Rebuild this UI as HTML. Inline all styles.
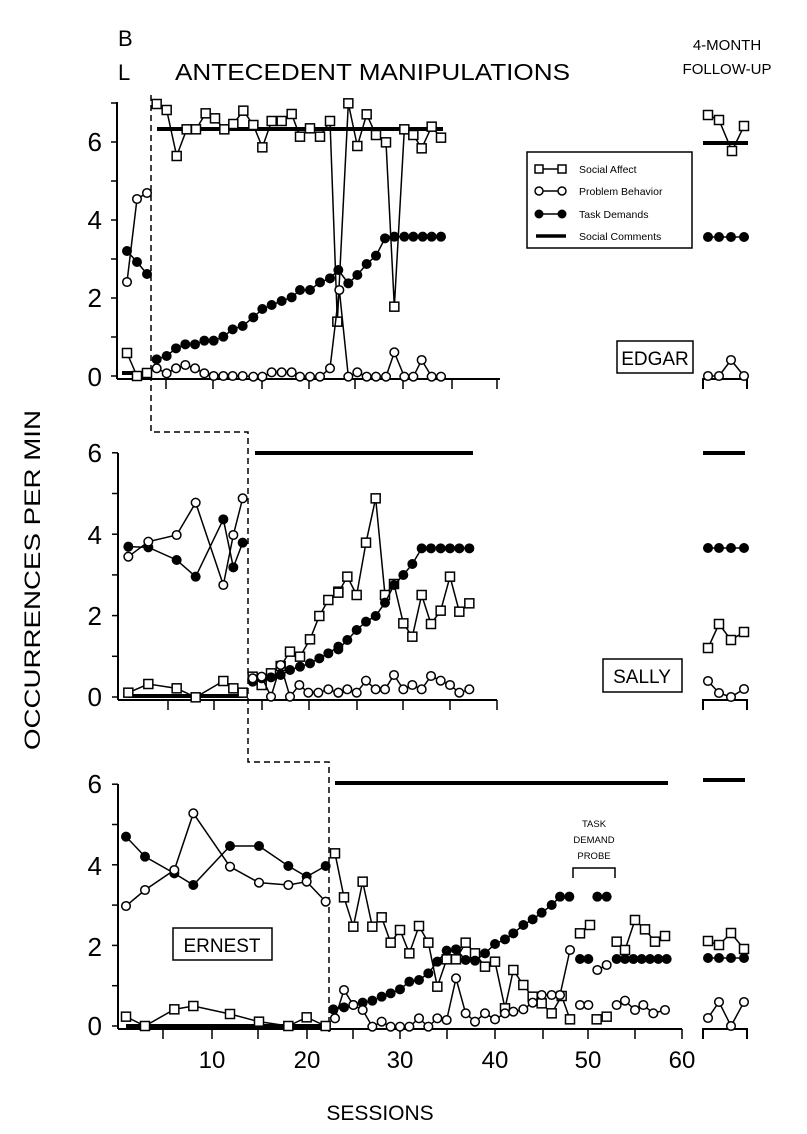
<!DOCTYPE html>
<html><head><meta charset="utf-8"><style>
html,body{margin:0;padding:0;background:#fff}
svg{display:block}
text{font-family:"Liberation Sans",Arial,sans-serif;fill:#000}
</style></head><body>
<svg id="s" width="807" height="1134" viewBox="0 0 807 1134" xmlns="http://www.w3.org/2000/svg">
<rect width="807" height="1134" fill="#fff"/>
<text x="118" y="46" font-size="22">B</text>
<text x="118" y="80" font-size="22">L</text>
<text x="175" y="80" font-size="23" textLength="395" lengthAdjust="spacingAndGlyphs">ANTECEDENT MANIPULATIONS</text>
<text x="727" y="50" font-size="15" text-anchor="middle">4-MONTH</text>
<text x="727" y="74" font-size="15" text-anchor="middle">FOLLOW-UP</text>
<text transform="translate(40,580) rotate(-90)" font-size="22" text-anchor="middle" textLength="340" lengthAdjust="spacingAndGlyphs">OCCURRENCES PER MIN</text>
<text x="380" y="1120" font-size="21" text-anchor="middle">SESSIONS</text>
<g font-size="24" text-anchor="middle">
<text x="212" y="1068">10</text><text x="307" y="1068">20</text><text x="400" y="1068">30</text>
<text x="495" y="1068">40</text><text x="588" y="1068">50</text><text x="682" y="1068">60</text>
</g>
<g font-size="26" text-anchor="end">
<text x="102" y="151">6</text><text x="102" y="229">4</text><text x="102" y="307">2</text><text x="102" y="386">0</text>
<text x="102" y="462">6</text><text x="102" y="544">4</text><text x="102" y="625">2</text><text x="102" y="706">0</text>
<text x="102" y="793">6</text><text x="102" y="875">4</text><text x="102" y="956">2</text><text x="102" y="1035">0</text>
</g>
<rect x="527" y="152" width="165" height="96" fill="#fff" stroke="#000" stroke-width="1.5"/>
<g font-size="10.5">
<text x="579" y="173">Social Affect</text>
<text x="579" y="195">Problem Behavior</text>
<text x="579" y="218">Task Demands</text>
<text x="579" y="240">Social Comments</text>
</g>
<line x1="539" y1="169" x2="562" y2="169" stroke="#000" stroke-width="1.5"/>
<rect x="535" y="165" width="8" height="8" fill="#fff" stroke="#000" stroke-width="1.5"/>
<rect x="558" y="165" width="8" height="8" fill="#fff" stroke="#000" stroke-width="1.5"/>
<line x1="539" y1="191" x2="562" y2="191" stroke="#000" stroke-width="1.5"/>
<circle cx="539" cy="191" r="4" fill="#fff" stroke="#000" stroke-width="1.5"/>
<circle cx="562" cy="191" r="4" fill="#fff" stroke="#000" stroke-width="1.5"/>
<line x1="539" y1="214" x2="562" y2="214" stroke="#000" stroke-width="1.5"/>
<circle cx="539" cy="214" r="4.5"/><circle cx="562" cy="214" r="4.5"/>
<line x1="536" y1="236" x2="566" y2="236" stroke="#000" stroke-width="3.5"/>
<rect x="617" y="341" width="76" height="32" fill="#fff" stroke="#000" stroke-width="1.5"/>
<text x="655" y="365" font-size="19" text-anchor="middle">EDGAR</text>
<rect x="603" y="659" width="79" height="33" fill="#fff" stroke="#000" stroke-width="1.5"/>
<text x="642" y="683" font-size="19" text-anchor="middle">SALLY</text>
<rect x="173" y="928" width="99" height="32" fill="#fff" stroke="#000" stroke-width="1.5"/>
<text x="222" y="952" font-size="19" text-anchor="middle">ERNEST</text>
<g font-size="9.5" text-anchor="middle"><text x="594" y="827">TASK</text><text x="594" y="843">DEMAND</text><text x="594" y="859">PROBE</text></g>
<path d="M573 878 V868 H615 V878" fill="none" stroke="#000" stroke-width="1.5"/>
<path d="M151 95 V432 H248 V762 H329 V1032" fill="none" stroke="#000" stroke-width="1.5" stroke-dasharray="6,4"/>
<g id="g"></g>
</svg>
<script>
var g=document.getElementById('g'),NS='http://www.w3.org/2000/svg';
function el(t,a){var e=document.createElementNS(NS,t);for(var k in a)e.setAttribute(k,a[k]);g.appendChild(e);return e;}
function Z(ox,oy,arr){var r=[];for(var i=0;i<arr.length;i+=2)r.push([ox+arr[i]/3,oy+arr[i+1]/3]);return r;}
function line(p){el('polyline',{points:p.map(function(q){return q.join(',')}).join(' '),fill:'none',stroke:'#000','stroke-width':1.5});}
function sq(p){line(p);p.forEach(function(q){el('rect',{x:q[0]-4.5,y:q[1]-4.5,width:9,height:9,fill:'#fff',stroke:'#000','stroke-width':1.5});});}
function oc(p){line(p);p.forEach(function(q){el('circle',{cx:q[0],cy:q[1],r:4.3,fill:'#fff',stroke:'#000','stroke-width':1.5});});}
function fc(p){line(p);p.forEach(function(q){el('circle',{cx:q[0],cy:q[1],r:5,fill:'#000'});});}
function thick(x1,x2,y){el('line',{x1:x1,x2:x2,y1:y,y2:y,stroke:'#000','stroke-width':4});}
function axes(x0,yTop,y0,unit,maxv,xEnd,ticks,fx){
 el('line',{x1:x0,y1:yTop,x2:x0,y2:y0+3,stroke:'#000','stroke-width':2});
 for(var v=0;v<=maxv;v++){var y=y0-v*unit;el('line',{x1:x0-6,x2:x0,y1:y,y2:y,stroke:'#000','stroke-width':1.5});}
 var ya=y0+3;
 el('line',{x1:x0,y1:ya,x2:xEnd,y2:ya,stroke:'#000','stroke-width':2});
 ticks.forEach(function(t){el('line',{x1:t,x2:t,y1:ya,y2:ya+10,stroke:'#000','stroke-width':1.5});});
 el('path',{d:'M'+fx[0]+' '+(ya+10)+' V'+ya+' H'+fx[1]+' V'+(ya+10),fill:'none',stroke:'#000','stroke-width':2});
}
axes(117,102,376,39,7,500,[166,213,262,309,355,403,452,497],[703,747]);
axes(118,453,697,40.7,6,497,[168,214,262,309,357,403,450,497],[703,747]);
axes(118,784,1026,40.3,6,682,[163,212,258,307,353,400,447,495,543,588,635,682],[703,747]);

thick(122,147,373);
sq([[127,353],[137,376],[147,373]]);
oc([[127,282],[137,199],[147,193]]);
fc([[127,251],[137,262],[147,274]]);
thick(157,443,129);
sq(Z(0,80,[470,72,500,90,530,228,560,148,588,148,617,100,645,115,673,148,700,132,730,92]).concat(
 Z(250,85,[10,120,37,187,65,108,95,108,125,87,150,155,180,130,210,155,240,108,262,710,295,55,322,183,350,88,378,150,408,172,433,665,463,133,490,150,515,190,545,125,573,158])));
fc(Z(0,80,[470,838,500,828,528,805,556,793,585,793,613,782,641,782,670,770,698,748,728,738]).concat(
 Z(250,85,[10,697,37,672,65,660,95,648,125,637,150,615,180,615,210,592,240,580,265,555,295,595,322,570,350,537,378,512,405,460,433,455,463,455,490,455,518,455,545,455,573,455])));
oc(Z(0,80,[470,865,500,880,528,865,556,855,585,865,613,880,641,888,670,888,698,888,728,888]).concat(
 Z(250,85,[10,875,37,875,65,862,95,862,125,862,150,875,180,875,210,875,240,850,268,615,295,875,322,862,350,875,378,875,408,875,433,802,463,875,490,875,515,825,545,875,573,875])));
thick(703,748,143);
sq([[708,115],[719,120],[732,151],[744,126]]);
fc([[708,237],[719,237],[731,237],[744,237]]);
oc([[708,376],[719,376],[731,360],[744,376]]);

thick(128,243,696);
sq(Z(60,420,[205,818,265,792,350,805,407,832,490,783,520,805,548,818]));
fc(Z(60,420,[205,380,265,382,350,420,407,470,490,298,520,442,548,368]));
oc(Z(60,420,[205,410,265,365,350,345,407,248,490,495,520,345,548,235]));
thick(255,473,453);
sq(Z(60,420,[578,770,605,795,633,760,662,738,690,695,720,710,750,658,778,588,805,540,835,515]).concat(
 Z(250,440,[265,458,292,410,320,465,348,308,377,175,405,465,432,432,460,550,487,590,515,465,543,552,572,512,600,410,628,515,658,490])));
fc(Z(60,420,[578,785,605,775,633,772,662,765,690,750,720,740,750,730,778,715,805,700,835,680]).concat(
 Z(250,440,[265,628,292,600,320,570,348,545,377,528,405,488,432,435,460,405,487,372,515,325,543,325,572,325,600,325,628,325,658,325])));
oc(Z(60,420,[578,775,605,770,633,830,662,735,690,830,718,795,745,818,775,818,805,808,835,818]).concat(
 Z(250,440,[265,758,292,748,320,758,348,722,377,748,405,748,432,705,460,748,487,735,515,748,543,708,572,722,600,735,628,758,658,748])));
thick(703,745,453);
sq([[708,648],[719,624],[731,640],[744,632]]);
fc([[708,548],[719,548],[731,548],[744,548]]);
oc([[708,681],[719,693],[731,697],[744,689]]);

thick(126,326,1026);
sq(Z(60,740,[198,830,255,858,343,808,400,798,510,822,597,845,685,858,740,832,797,858]));
fc(Z(60,740,[198,290,255,350,343,400,400,435,510,318,597,318,685,378,740,410,797,378]));
oc(Z(60,740,[198,498,255,450,343,390,400,220,510,380,597,428,685,435,740,425,797,485]));
thick(335,668,783);
sq(Z(320,760,[45,280,72,412,100,500,128,365,157,500,185,472,212,548,240,510,268,580,297,498,325,548,352,680,380,598,408,598,437,548,465,580,495,620]).concat(
 Z(480,780,[45,545,75,685,100,570,130,615,158,650,185,670,215,700,245,648,270,718])));
sq(Z(480,780,[300,460,330,435]));
sq(Z(480,780,[350,718,380,710]));
sq(Z(480,780,[410,485,435,510,465,420,495,448,525,485,555,468]));
fc(Z(320,760,[40,748,72,742,100,735,128,728,157,722,185,710,212,700,240,688,268,665,297,660,325,640,352,605,380,572,408,568,437,600,465,602]).concat(
 Z(480,780,[15,520,45,492,75,478,100,460,130,435,158,418,185,398,215,375,240,350,268,350])));
fc(Z(480,780,[300,537,325,537]));
fc(Z(480,780,[352,350,380,350]));
fc(Z(480,780,[410,537,435,537,460,537,485,537,510,537,535,537,560,537]));
oc(Z(320,760,[45,775,72,690,100,735,128,750,157,800,185,785,212,800,240,800,268,800,297,775,325,800,352,775,380,780,408,655,437,760,465,785]).concat(
 Z(480,780,[15,700,45,718,75,700,100,695,130,688,158,668,185,645,215,645,240,645,270,510])));
oc(Z(480,780,[300,675,325,675]));
oc(Z(480,780,[352,570,380,555]));
oc(Z(480,780,[410,675,435,662,465,690,490,675,520,700,555,690]));
thick(703,745,780);
sq([[708,941],[719,945],[731,933],[744,949]]);
fc([[708,958],[719,958],[731,958],[744,958]]);
oc([[708,1018],[719,1002],[731,1026],[744,1002]]);
</script>
</body></html>
